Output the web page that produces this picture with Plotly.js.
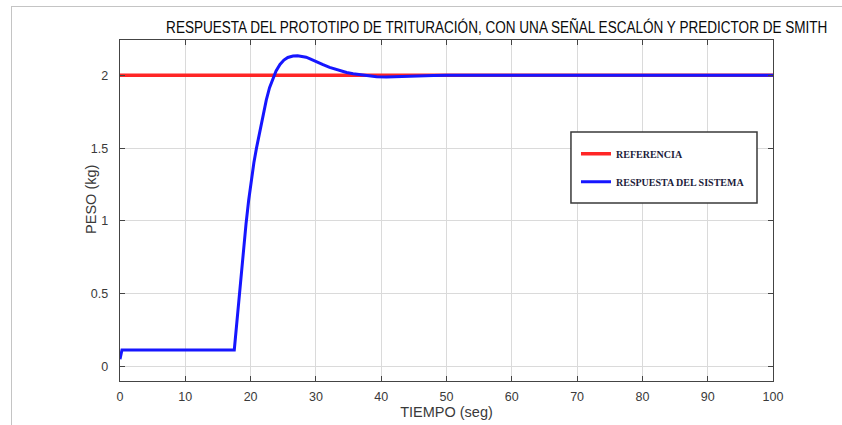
<!DOCTYPE html>
<html>
<head>
<meta charset="utf-8">
<script src="https://cdn.plot.ly/plotly-3.0.1.min.js"></script>
<style>
  html, body { margin: 0; padding: 0; background: #fff; }
  #wrap { position: relative; width: 842px; height: 425px; overflow: hidden; }
  #frame { position: absolute; left: 11px; top: 6px; width: 840px; height: 430px;
           border-top: 1.5px solid #c4c4c4; border-left: 1.5px solid #c4c4c4; pointer-events: none; }
  #chart { position: absolute; left: 0; top: 0; width: 842px; height: 425px; }
</style>
</head>
<body>
<div id="wrap">
  <div id="chart"></div>
  <div id="frame"></div>
</div>
<script>
// Setpoint (reference weight) over the run
const refTime = [0, 100];
const refWeight = [2, 2];

// Measured system response with the Smith predictor (seconds, kg)
const respTime = [0, 0.3, 17.5, 18.0, 18.5, 18.9, 19.3, 19.7, 20.1, 20.5, 20.9, 21.4, 21.9,
                  22.4, 22.9, 23.4, 23.9, 24.5, 25.1, 25.7, 26.5, 27.2, 27.9, 28.5, 29.2,
                  30, 31, 32.1, 33.4, 34.7, 35.7, 36.7, 38, 39.3, 40.8, 42.3, 44, 45.9, 48, 50, 100];
const respWeight = [0.05, 0.113, 0.113, 0.36, 0.61, 0.80, 0.98, 1.14, 1.28, 1.40, 1.50, 1.615, 1.725,
                    1.83, 1.915, 1.98, 2.03, 2.075, 2.105, 2.123, 2.133, 2.135, 2.132, 2.125, 2.112,
                    2.094, 2.075, 2.055, 2.036, 2.02, 2.011, 2.005, 1.996, 1.99, 1.989, 1.992, 1.995, 1.997, 1.999, 2.0, 2.0];

// Axis ticks
const xTicks = [0, 10, 20, 30, 40, 50, 60, 70, 80, 90, 100];
const yTicks = [0, 0.5, 1, 1.5, 2];
const yTickText = ['0', '0.5', '1', '1.5', '2'];

const traces = [
  {
    x: refTime, y: refWeight, type: 'scatter', mode: 'lines',
    name: 'REFERENCIA', legendgroup: 'a',
    line: { color: 'rgb(255,38,38)', width: 3.5 }
  },
  {
    x: respTime, y: respWeight, type: 'scatter', mode: 'lines',
    name: 'RESPUESTA DEL SISTEMA', legendgroup: 'b',
    line: { color: 'rgb(22,22,255)', width: 3 }
  }
];

const tickFont = { family: '"Liberation Sans", Arial, sans-serif', size: 12.5, color: '#3a3a3a' };
const titleFont = { family: '"Liberation Sans", Arial, sans-serif', size: 14.5, color: '#3a3a3a' };

const layout = {
  width: 842, height: 425,
  margin: { l: 120, r: 69, t: 40, b: 44 },
  paper_bgcolor: 'rgba(0,0,0,0)',
  plot_bgcolor: '#ffffff',
  showlegend: true,
  title: {
    text: 'RESPUESTA DEL PROTOTIPO DE TRITURACIÓN, CON UNA SEÑAL ESCALÓN Y PREDICTOR DE SMITH',
    font: { family: '"Liberation Sans", Arial, sans-serif', size: 17, color: '#0a0a0a' },
    xref: 'container', x: 0.590, xanchor: 'center',
    yref: 'container', y: 0.936, yanchor: 'middle'
  },
  xaxis: {
    range: [0, 100], tickvals: xTicks,
    ticks: 'inside', ticklen: 5, tickcolor: '#444', tickwidth: 1,
    showline: true, linecolor: '#444', linewidth: 1.3, mirror: 'ticks',
    showgrid: true, gridcolor: '#dadada', gridwidth: 1,
    zeroline: false, tickfont: tickFont, ticklabelstandoff: 4,
    title: { text: 'TIEMPO (seg)', font: titleFont, standoff: 0 }
  },
  yaxis: {
    range: [-0.1, 2.243], tickvals: yTicks, ticktext: yTickText,
    ticks: 'inside', ticklen: 5, tickcolor: '#444', tickwidth: 1,
    showline: true, linecolor: '#444', linewidth: 1.3, mirror: 'ticks',
    showgrid: true, gridcolor: '#dadada', gridwidth: 1,
    zeroline: false, tickfont: tickFont, ticklabelstandoff: 8
  },
  annotations: [
    {
      // y-axis title, set close to the tick labels
      text: 'PESO (kg)', textangle: -90, showarrow: false,
      xref: 'paper', x: -0.0444, xanchor: 'center',
      yref: 'paper', y: 0.531, yanchor: 'middle',
      font: titleFont
    }
  ],
  legend: {
    x: 0.6983, xanchor: 'left', y: 0.709, yanchor: 'top',
    bgcolor: 'rgba(0,0,0,0)', borderwidth: 0,
    traceorder: 'grouped', tracegroupgap: 9, itemwidth: 30,
    font: { family: '"Liberation Serif", serif', size: 10, color: '#1c1c3a', weight: 'bold' }
  },
  shapes: [
    {
      // legend box
      type: 'rect', xref: 'paper', yref: 'paper', layer: 'above',
      x0: 0.6906, x1: 0.9755, y0: 0.522, y1: 0.730,
      line: { color: '#3a3a3a', width: 1.5 }, fillcolor: '#ffffff'
    }
  ]
};

Plotly.newPlot('chart', traces, layout, { displayModeBar: false, staticPlot: true }).then(function (gd) {
  // condensed title lettering: squeeze the heading horizontally about its centre
  const t = gd.querySelector('.gtitle');
  if (t) {
    const natural = t.getComputedTextLength();
    const s = 662 / natural;
    const cx = parseFloat(t.getAttribute('x')) || 0;
    const prev = t.getAttribute('transform') || '';
    t.setAttribute('transform', prev + ' translate(' + (cx * (1 - s)) + ',0) scale(' + s + ',1)');
  }
});
</script>
</body>
</html>
